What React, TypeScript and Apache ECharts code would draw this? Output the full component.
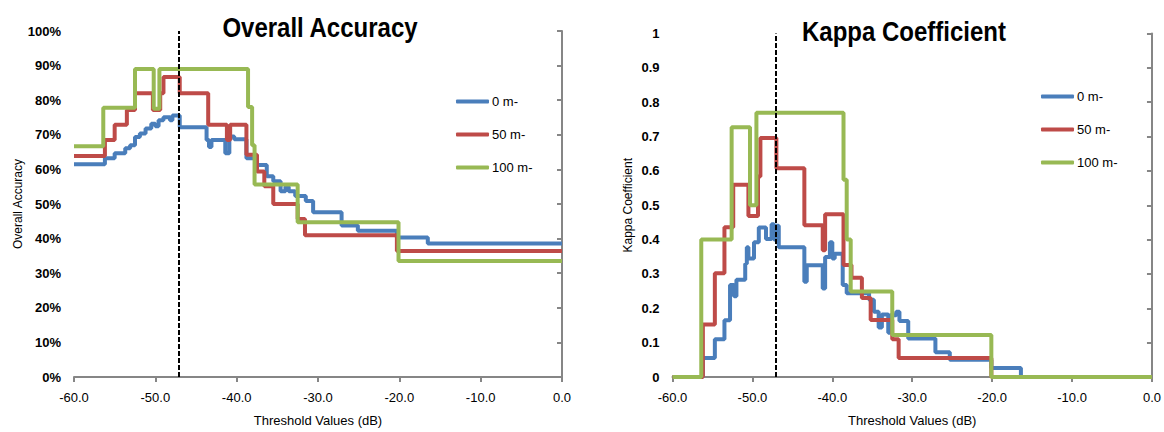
import React, { useEffect, useRef } from "react";
import * as echarts from "echarts";

const FONT = '"Liberation Sans", Arial, Helvetica, sans-serif';

const seriesNames = ["0 m-", "50 m-", "100 m-"];
const seriesColors = ["#4A7EBB", "#BE4B48", "#98B954"];

const xAxisName = "Threshold Values (dB)";
const leftTitle = "Overall Accuracy";
const rightTitle = "Kappa Coefficient";
const leftYName = "Overall Accuracy";
const rightYName = "Kappa Coefficient";

// dashed vertical threshold line (dB)
const thresholdDb = -47.1;

// Overall Accuracy (%) — step breakpoints: value holds from x[i] to x[i+1]
const oa0X = [-60, -56.2, -55.0, -53.7, -53.1, -52.5, -51.9, -51.2, -50.5, -50.0, -49.6, -49.0, -48.2, -47.9, -47.0, -43.7, -43.4, -43.1, -41.4, -40.9, -40.3, -38.8, -37.5, -36.3, -35.5, -34.6, -34.0, -33.6, -32.8, -31.5, -30.6, -27.1, -25.1, -20.3, -16.5, 0];
const oa0Y = [61.5, 63.2, 64.7, 66.1, 67.0, 69.4, 70.4, 71.8, 73.2, 72.5, 74.2, 75.1, 74.2, 75.6, 72.2, 68.5, 66.5, 68.5, 64.7, 69.5, 68.7, 63.2, 61.3, 58.0, 56.6, 53.7, 55.0, 53.7, 52.3, 50.9, 47.6, 43.8, 42.3, 40.3, 38.6, 38.6];

const oa50X = [-60, -56.2, -55.0, -53.5, -52.5, -50.3, -49.4, -49.0, -47.0, -43.5, -41.2, -40.8, -38.8, -37.5, -36.6, -35.5, -32.5, -31.6, -20.3, 0];
const oa50Y = [63.9, 68.5, 72.9, 77.2, 82.0, 77.2, 82.0, 86.7, 82.0, 72.9, 68.5, 72.9, 64.2, 59.4, 55.1, 50.0, 45.7, 41.0, 36.4, 36.4];

const oa100X = [-60, -56.4, -52.5, -50.2, -49.5, -38.6, -38.1, -37.8, -32.5, -20.1, 0];
const oa100Y = [66.7, 77.8, 89.0, 77.5, 89.0, 78.0, 67.0, 55.6, 44.7, 33.5, 33.5];

// Kappa coefficient
const k0X = [-60, -56.2, -54.7, -53.5, -52.8, -52.3, -52.0, -50.9, -50.7, -50.5, -49.8, -49.2, -48.3, -47.6, -47.3, -47.1, -46.7, -43.5, -43.2, -41.2, -40.9, -40.3, -40.0, -39.7, -38.7, -38.2, -35.4, -34.8, -34.2, -33.8, -33.0, -32.8, -32.0, -31.6, -30.5, -27.1, -25.3, -20.1, -16.4, 0];
const k0Y = [0, 0.055, 0.11, 0.165, 0.268, 0.235, 0.283, 0.33, 0.378, 0.345, 0.392, 0.435, 0.402, 0.445, 0.40, 0.44, 0.378, 0.277, 0.325, 0.258, 0.349, 0.392, 0.345, 0.359, 0.268, 0.244, 0.225, 0.19, 0.144, 0.182, 0.129, 0.18, 0.19, 0.163, 0.112, 0.072, 0.05, 0.026, 0, 0];

const k50X = [-60, -56.2, -54.7, -53.5, -52.4, -50.5, -49.3, -49.0, -47.0, -43.5, -41.2, -40.9, -38.6, -37.6, -36.3, -35.2, -32.5, -31.7, -20.1, 0];
const k50Y = [0, 0.153, 0.302, 0.436, 0.56, 0.469, 0.584, 0.696, 0.608, 0.442, 0.369, 0.474, 0.326, 0.289, 0.23, 0.166, 0.11, 0.055, 0, 0];

const k100X = [-60, -56.4, -52.6, -50.3, -49.5, -38.6, -38.2, -37.7, -32.5, -20.1, 0];
const k100Y = [0, 0.40, 0.727, 0.50, 0.769, 0.574, 0.40, 0.249, 0.122, 0, 0];

const zip = (xs: number[], ys: number[]) => xs.map((x, i) => [x, ys[i]]);

const AXIS_COLOR = "#868686";

function makeXAxis(gridIndex: number) {
  return {
    type: "value",
    gridIndex,
    min: -60,
    max: 0,
    interval: 10,
    name: xAxisName,
    nameLocation: "middle",
    nameGap: 37,
    nameTextStyle: { color: "#000", fontSize: 13, fontFamily: FONT },
    axisLine: { show: true, onZero: false, lineStyle: { color: AXIS_COLOR, width: 2 } },
    axisTick: { show: true, length: 5, lineStyle: { color: AXIS_COLOR, width: 2 } },
    axisLabel: {
      color: "#000",
      fontSize: 13,
      fontFamily: FONT,
      margin: 14,
      formatter: (v: number) => v.toFixed(1),
    },
    splitLine: { show: false },
  };
}

function makeYAxis(gridIndex: number, max: number, interval: number, name: string, nameGap: number, formatter: (v: number) => string) {
  return {
    type: "value",
    gridIndex,
    min: 0,
    max,
    interval,
    name,
    nameLocation: "middle",
    nameGap,
    nameTextStyle: { color: "#000", fontSize: 12, fontFamily: FONT },
    axisLine: { show: true, lineStyle: { color: AXIS_COLOR, width: 2 } },
    axisTick: { show: true, length: 5, lineStyle: { color: AXIS_COLOR, width: 2 } },
    axisLabel: {
      color: "#000",
      fontSize: 13,
      fontWeight: "bold",
      fontFamily: FONT,
      margin: 13,
      formatter,
    },
    splitLine: { show: false },
  };
}

function lineSeries(name: string, color: string, data: number[][], axisIndex: number, withMark: boolean) {
  const s: any = {
    name,
    type: "line",
    xAxisIndex: axisIndex,
    yAxisIndex: axisIndex,
    step: "end",
    symbol: "none",
    data,
    lineStyle: { color, width: 4 },
    itemStyle: { color },
    emphasis: { disabled: true },
  };
  if (withMark) {
    s.markLine = {
      silent: true,
      symbol: ["none", "none"],
      label: { show: false },
      lineStyle: { color: "#000", type: [5, 2], width: 2 },
      data: [{ xAxis: thresholdDb }],
    };
  }
  return s;
}

function legendAt(left: number, top: number) {
  return {
    data: seriesNames,
    orient: "vertical",
    left,
    top,
    icon: "roundRect",
    itemWidth: 33,
    itemHeight: 4,
    itemGap: 20,
    textStyle: { color: "#000", fontSize: 13, fontFamily: FONT, padding: [0, 0, 0, -2] },
  };
}

export default function App() {
  const ref = useRef<HTMLDivElement>(null);

  useEffect(() => {
    if (!ref.current) return;
    const chart = echarts.init(ref.current, null, { renderer: "svg" });
    const oaSets = [zip(oa0X, oa0Y), zip(oa50X, oa50Y), zip(oa100X, oa100Y)];
    const kSets = [zip(k0X, k0Y), zip(k50X, k50Y), zip(k100X, k100Y)];
    const option: any = {
      animation: false,
      backgroundColor: "#fff",
      textStyle: { fontFamily: FONT },
      grid: [
        { left: 74, top: 31, width: 488, height: 351 },
        { left: 672.5, top: 33.5, width: 482, height: 348 },
      ],
      xAxis: [makeXAxis(0), makeXAxis(1)],
      yAxis: [
        makeYAxis(0, 100, 10, leftYName, 50, (v: number) => `${Math.round(v)}%`),
        makeYAxis(1, 1, 0.1, rightYName, 39, (v: number) =>
          v === 0 ? "0" : Math.abs(v - 1) < 1e-9 ? "1" : v.toFixed(1)
        ),
      ],
      legend: [legendAt(451, 90), legendAt(1036, 85)],
      series: [
        ...oaSets.map((d, i) => lineSeries(seriesNames[i], seriesColors[i], d, 0, i === 2)),
        ...kSets.map((d, i) => lineSeries(seriesNames[i], seriesColors[i], d, 1, i === 2)),
      ],
      graphic: [
        {
          type: "text",
          x: 320,
          y: 27.5,
          scaleY: 1.15,
          style: {
            text: leftTitle,
            fontSize: 24,
            fontWeight: "bold",
            fontFamily: FONT,
            fill: "#000",
            align: "center",
            verticalAlign: "middle",
          },
        },
        {
          type: "text",
          x: 904,
          y: 31.7,
          scaleY: 1.15,
          style: {
            text: rightTitle,
            fontSize: 24,
            fontWeight: "bold",
            fontFamily: FONT,
            fill: "#000",
            align: "center",
            verticalAlign: "middle",
          },
        },
      ],
    };
    chart.setOption(option);
    return () => chart.dispose();
  }, []);

  return (
    <div
      ref={ref}
      style={{ position: "absolute", left: 0, top: 0, width: 1164, height: 432 }}
    />
  );
}
